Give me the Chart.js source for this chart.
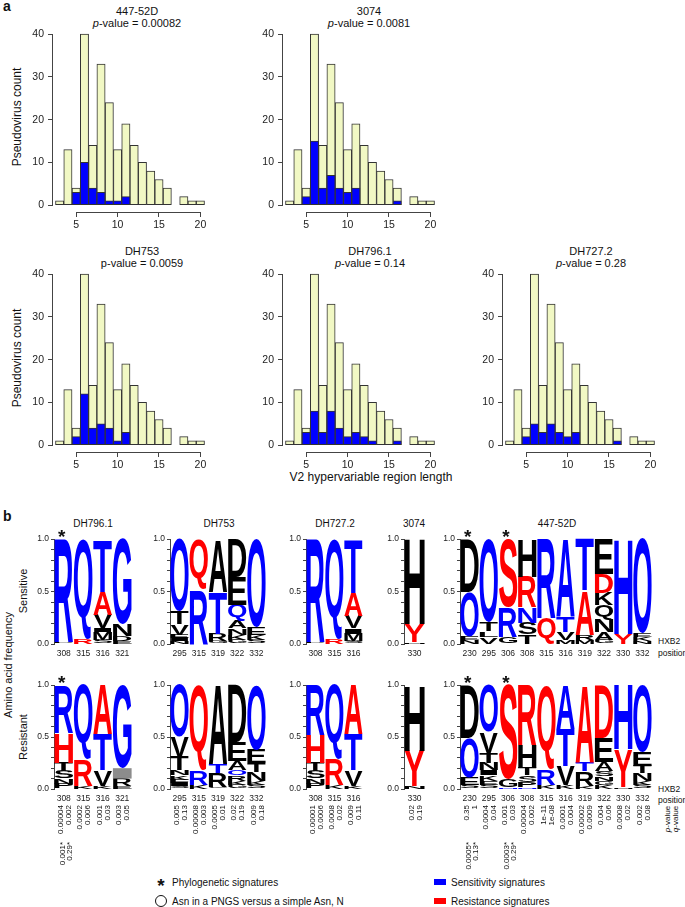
<!DOCTYPE html>
<html>
<head>
<meta charset="utf-8">
<script src="https://cdn.jsdelivr.net/npm/chart.js@4.4.1/dist/chart.umd.min.js"></script>
<style>
body { margin: 0; background: #fff; }
#fig { position: relative; width: 685px; height: 907px; overflow: hidden; background: #fff;
       font-family: "Liberation Sans", Arial, Helvetica, sans-serif; color: #111; }
#fig canvas { position: absolute; }
.t { position: absolute; white-space: nowrap; transform: translate(-50%, -50%); }
.l { position: absolute; white-space: nowrap; transform: translateY(-50%); }
.r { position: absolute; white-space: nowrap; transform: translate(-50%, -50%) rotate(-90deg); }
.panel { position: absolute; font-weight: bold; font-size: 14px; }
.ht { font-size: 11px; }
.lt { font-size: 10px; }
.sw { position: absolute; width: 12px; height: 6px; }
</style>
</head>
<body>
<div id="fig">
  <div class="panel" style="left:3px;top:-2px">a</div>
  <div class="t ht" style="left:137px;top:11px">447-52D</div>
  <div class="t ht" style="left:137px;top:23px"><i>p</i>-value = 0.00082</div>
  <div class="t ht" style="left:369px;top:11px">3074</div>
  <div class="t ht" style="left:369px;top:23px"><i>p</i>-value = 0.0081</div>
  <div class="t ht" style="left:142px;top:251px">DH753</div>
  <div class="t ht" style="left:142px;top:263px">p-value = 0.0059</div>
  <div class="t ht" style="left:370px;top:251px">DH796.1</div>
  <div class="t ht" style="left:370px;top:263px"><i>p</i>-value = 0.14</div>
  <div class="t ht" style="left:591px;top:251px">DH727.2</div>
  <div class="t ht" style="left:591px;top:263px"><i>p</i>-value = 0.28</div>
  <div class="r" style="left:17px;top:117px;font-size:12px">Pseudovirus count</div>
  <div class="r" style="left:17px;top:358px;font-size:12px">Pseudovirus count</div>
  <div class="t" style="left:371px;top:477px;font-size:12px">V2 hypervariable region length</div>

  <div class="panel" style="left:3px;top:508px">b</div>
  <div class="t lt" style="left:93px;top:523px">DH796.1</div>
  <div class="t lt" style="left:219px;top:523px">DH753</div>
  <div class="t lt" style="left:335px;top:523px">DH727.2</div>
  <div class="t lt" style="left:414px;top:523px">3074</div>
  <div class="t lt" style="left:557px;top:523px">447-52D</div>
  <div class="r" style="left:8px;top:665px;font-size:11px">Amino acid frequency</div>
  <div class="r" style="left:23px;top:591px;font-size:11px">Sensitive</div>
  <div class="r" style="left:23px;top:737px;font-size:11px">Resistant</div>
  <div class="l" style="left:658px;top:641px;font-size:8.5px">HXB2</div>
  <div class="l" style="left:658px;top:653px;font-size:8.5px">position</div>
  <div class="l" style="left:658px;top:789px;font-size:8.5px">HXB2</div>
  <div class="l" style="left:658px;top:800px;font-size:8.5px">position</div>
  <div class="r" style="left:667px;top:819px;font-size:8px"><i>p</i>-value</div>
  <div class="r" style="left:675px;top:819px;font-size:8px"><i>q</i>-value</div>

  <div class="t" style="left:161px;top:886px;font-size:19px;font-weight:bold">*</div>
  <div class="l lt" style="left:172px;top:882px">Phylogenetic signatures</div>
  <div style="position:absolute;left:155px;top:895px;width:10px;height:10px;border:1.5px solid #111;border-radius:50%"></div>
  <div class="l lt" style="left:172px;top:901px">Asn in a PNGS versus a simple Asn, N</div>
  <div class="sw" style="left:434px;top:879px;background:#0000ff"></div>
  <div class="l lt" style="left:451px;top:882px">Sensitivity signatures</div>
  <div class="sw" style="left:434px;top:898px;background:#ff0000"></div>
  <div class="l lt" style="left:451px;top:901px">Resistance signatures</div>
</div>

<script>
// ---- panel a: V2 length histograms ----
const lengths = [3, 4, 5, 6, 7, 8, 9, 10, 11, 12, 13, 14, 15, 16, 17, 18, 19, 20];
const totalCount = [1, 13, 4, 40, 14, 33, 24, 13, 19, 14, 10, 8, 6, 4, 0, 2, 1, 1];
const sens44752D = [0, 0, 3, 10, 4, 3, 1, 1, 2, 0, 0, 0, 0, 0, 0, 0, 0, 0];
const sens3074 = [0, 0, 2, 15, 4, 7, 4, 3, 4, 0, 0, 0, 0, 1, 0, 0, 0, 0];
const sensDH753 = [0, 0, 2, 12, 4, 5, 4, 1, 3, 0, 0, 0, 0, 0, 0, 0, 0, 0];
const sensDH7961 = [0, 0, 3, 8, 3, 8, 4, 2, 3, 2, 1, 0, 0, 1, 0, 0, 0, 0];
const sensDH7272 = [0, 0, 2, 5, 3, 5, 3, 2, 3, 0, 0, 0, 0, 1, 0, 0, 0, 0];
const countTicks = [0, 10, 20, 30, 40];
const lengthTicks = [5, 10, 15, 20];

// ---- panel b: sequence logos (letters bottom -> top) ----
// sig: s = sensitivity signature, r = resistance signature, n = none, g = gap
const posDH7961 = ['308', '315', '316', '321'];
const sensLetDH7961 = ['PR', 'RQ', 'SMIVAT', 'EDNG'];
const sensSigDH7961 = ['ns', 'rs', 'nnnnrs', 'nnns'];
const sensFrqDH7961 = [[.02, .98], [.05, .95], [.04, .07, .04, .13, .22, .50], [.03, .05, .11, .81]];
const resLetDH7961 = ['PNSTHR', 'KRQ', 'KVTA', 'ER-G'];
const resSigDH7961 = ['nnnnrs', 'nrs', 'nnsr', 'nngs'];
const resFrqDH7961 = [[.05, .05, .07, .08, .29, .46], [.03, .25, .72], [.03, .15, .35, .47], [.03, .07, .10, .80]];
const pvalDH7961 = ['0.00004', '0.0002', '0.001', '0.003'];
const qvalDH7961 = ['0.002', '0.006', '0.03', '0.05'];
const phyPDH7961 = ['0.001*', '', '', ''];
const phyQDH7961 = ['0.29*', '', '', ''];

const posDH753 = ['295', '315', '319', '322', '332'];
const sensLetDH753 = ['NIEVTO', 'RQ', 'GRTA', 'GKNAQED', 'SKEO'];
const sensSigDH753 = ['nnnnns', 'sr', 'nnsn', 'nnnnsnn', 'nnns'];
const sensFrqDH753 = [[.03, .03, .03, .10, .12, .69], [.52, .48], [.03, .07, .40, .50], [.04, .05, .06, .07, .15, .27, .36], [.04, .05, .07, .84]];
const resLetDH753 = ['SIFKNTVO', 'KRQ', 'GRTA', 'GKROAED', 'SKNTEO'];
const resSigDH753 = ['nnnnnnns', 'nsr', 'nnsn', 'nnnsnnn', 'nnnnns'];
const resFrqDH753 = [[.03, .03, .03, .04, .05, .13, .19, .50], [.04, .14, .82], [.02, .13, .09, .76], [.04, .04, .05, .05, .09, .18, .55], [.04, .04, .08, .09, .13, .62]];
const pvalDH753 = ['0.005', '0.00008', '0.0005', '0.02', '0.009'];
const qvalDH753 = ['0.13', '0.003', '0.01', '0.19', '0.18'];

const posDH7272 = ['308', '315', '316'];
const sensLetDH7272 = ['PR', 'RQ', 'SMIVAT'];
const sensSigDH7272 = ['ns', 'rs', 'nnnnrs'];
const sensFrqDH7272 = [[.02, .98], [.05, .95], [.03, .07, .05, .12, .22, .51]];
const resLetDH7272 = ['PNSTHR', 'KRQ', 'KVTA'];
const resSigDH7272 = ['nnnnrs', 'nrs', 'nnsr'];
const resFrqDH7272 = [[.05, .05, .07, .08, .27, .48], [.04, .24, .72], [.03, .15, .35, .47]];
const pvalDH7272 = ['0.00001', '0.0008', '0.009'];
const qvalDH7272 = ['0.0006', '0.02', '0.11'];

const pos3074 = ['330'];
const sensLet3074 = ['NYH'];
const sensSig3074 = ['nrn'];
const sensFrq3074 = [[.02, .17, .81]];
const resLet3074 = ['NYH'];
const resSig3074 = ['nrn'];
const resFrq3074 = [[.03, .34, .63]];
const pval3074 = ['0.02'];
const qval3074 = ['0.19'];

const pos44752D = ['230', '295', '306', '308', '315', '316', '319', '322', '330', '332'];
const sensLet44752D = ['NEOD', 'VLTO', 'GRS', 'TSNRH', 'QR', 'MVTA', 'MRAT', 'GANQKDE', 'YH', 'NKEO'];
const sensSig44752D = ['nnsn', 'nnns', 'nsr', 'nnsrn', 'rs', 'nnss', 'nnrs', 'nnnnnrn', 'rs', 'nnns'];
const sensFrq44752D = [[.04, .03, .43, .50], [.07, .05, .09, .79], [.07, .28, .65], [.09, .11, .15, .29, .36], [.25, .75],
  [.04, .07, .15, .74], [.04, .05, .42, .49], [.04, .07, .12, .14, .12, .18, .33], [.10, .90], [.03, .04, .03, .90]];
const resLet44752D = ['SEOD', 'SEKINTVO', 'NGS', 'NPSTHR', 'KRQ', 'KVTA', 'KRTA', 'KGNSAED', 'NYH', 'SKNTEO'];
const resSig44752D = ['nnsn', 'nnnnnnns', 'snr', 'snnnnr', 'nsr', 'nnss', 'nnsr', 'nnnnnnr', 'nrs', 'nnnnns'];
const resFrq44752D = [[.04, .07, .38, .51], [.04, .04, .05, .05, .07, .10, .20, .45], [.02, .07, .91], [.02, .05, .06, .07, .22, .58],
  [.04, .15, .81], [.04, .18, .36, .42], [.03, .14, .09, .74], [.04, .04, .04, .05, .09, .23, .51], [.02, .36, .62], [.04, .04, .07, .07, .14, .64]];
const pval44752D = ['0.35', '0.0004', '0.001', '0.00004', '1e-11', '0.0001', '0.00002', '0.004', '0.0008', '0.002'];
const qval44752D = ['1', '0.04', '0.03', '0.002', '1e-08', '0.004', '0.0009', '0.06', '0.02', '0.08'];
const phyP44752D = ['0.0005*', '', '0.0003*', '', '', '', '', '', '', ''];
const phyQ44752D = ['0.13*', '', '0.29*', '', '', '', '', '', '', ''];

const FONT = '"Liberation Sans", Arial, Helvetica, sans-serif';
Chart.defaults.font.family = FONT;
const fig = document.getElementById('fig');

function addCanvas(left, top, w, h) {
  const c = document.createElement('canvas');
  c.width = w;
  c.height = h;
  c.style.left = left + 'px';
  c.style.top = top + 'px';
  fig.appendChild(c);
  return c;
}

// R-style axes: lines only from first to last tick
const rAxes = {
  id: 'rAxes',
  afterDraw(chart) {
    const { ctx, chartArea, scales: { x, y } } = chart;
    const xt = x.ticks.map(t => t.value), yt = y.ticks.map(t => t.value);
    ctx.save();
    ctx.strokeStyle = '#444';
    ctx.lineWidth = 1;
    ctx.beginPath();
    const yb = Math.round(chartArea.bottom) + 0.5, xl = Math.round(chartArea.left) - 0.5;
    ctx.moveTo(x.getPixelForValue(xt[0]), yb);
    ctx.lineTo(x.getPixelForValue(xt[xt.length - 1]), yb);
    ctx.moveTo(xl, y.getPixelForValue(yt[0]));
    ctx.lineTo(xl, y.getPixelForValue(yt[yt.length - 1]));
    ctx.stroke();
    ctx.restore();
  }
};

function histogram(left, top, blue) {
  const canvas = addCanvas(left - 30, top - 8, 196, 219);
  const common = { borderColor: '#333', borderWidth: 1, borderSkipped: false, grouped: false,
    barPercentage: 1, categoryPercentage: 1 };
  new Chart(canvas, {
    type: 'bar',
    data: {
      datasets: [
        Object.assign({ data: lengths.map((x, i) => ({ x, y: blue[i] || null })), backgroundColor: '#0000ff' }, common),
        Object.assign({ data: lengths.map((x, i) => ({ x, y: totalCount[i] || null })), backgroundColor: '#f1f8c4' }, common)
      ]
    },
    options: {
      responsive: false, animation: false, devicePixelRatio: 1,
      layout: { padding: { top: 8, right: 12, left: 0, bottom: 0 } },
      plugins: { legend: { display: false }, tooltip: { enabled: false } },
      scales: {
        x: {
          type: 'linear', min: 2.2, max: 20.8, offset: false,
          afterBuildTicks: s => { s.ticks = lengthTicks.map(v => ({ value: v })); },
          afterFit: s => { s.height = 24; },
          grid: { drawOnChartArea: false, offset: false, tickLength: 5, color: '#444' },
          border: { display: false },
          ticks: { color: '#222', font: { size: 10.5 }, padding: 2, maxRotation: 0, autoSkip: false }
        },
        y: {
          min: -1.6, max: 41.6,
          afterBuildTicks: s => { s.ticks = countTicks.map(v => ({ value: v })); },
          afterFit: s => { s.width = 30; },
          grid: { drawOnChartArea: false, tickLength: 5, color: '#444' },
          border: { display: false },
          ticks: { color: '#222', font: { size: 10.5 }, padding: 4, autoSkip: false }
        }
      }
    },
    plugins: [rAxes]
  });
}

histogram(53, 25, sens44752D);
histogram(283, 25, sens3074);
histogram(53, 265, sensDH753);
histogram(283, 265, sensDH7961);
histogram(503, 265, sensDH7272);

const sigColor = { s: '#0000ff', r: '#ff0000', n: '#000000', g: '#8c8c8c' };

function drawGlyph(ctx, ch, color, x, y, w, h) {
  ctx.save();
  ctx.fillStyle = color;
  if (ch === '-') {
    ctx.fillRect(x, y, w, h);
    ctx.restore();
    return;
  }
  ctx.font = 'bold 100px ' + FONT;
  const m = ctx.measureText(ch);
  const gw = m.actualBoundingBoxLeft + m.actualBoundingBoxRight;
  const gh = m.actualBoundingBoxAscent + m.actualBoundingBoxDescent;
  ctx.translate(x, y);
  ctx.scale(w / gw, h / gh);
  ctx.textAlign = 'left';
  ctx.textBaseline = 'alphabetic';
  ctx.fillText(ch, m.actualBoundingBoxLeft, m.actualBoundingBoxAscent);
  ctx.restore();
}

function logo(box, pos, lets, sigs, frqs, extra) {
  const canvas = addCanvas(box.left - 28, box.top - 14, 28 + box.width + 6, 14 + box.height + box.axis);
  const depth = Math.max(...lets.map(s => s.length));
  const datasets = [];
  for (let k = 0; k < depth; k++) {
    datasets.push({ data: frqs.map(f => f[k] ?? null), backgroundColor: 'rgba(0,0,0,0)', borderWidth: 0,
      barPercentage: 1, categoryPercentage: 1 });
  }
  const letters = {
    id: 'letters',
    afterDatasetsDraw(chart) {
      const ctx = chart.ctx;
      chart.data.datasets.forEach((ds, k) => {
        chart.getDatasetMeta(k).data.forEach((bar, i) => {
          const ch = lets[i][k];
          if (!ch) return;
          const p = bar.getProps(['x', 'y', 'base', 'width'], true);
          const top = Math.min(p.y, p.base), h = Math.abs(p.base - p.y);
          if (h < 0.3) return;
          drawGlyph(ctx, ch, sigColor[sigs[i][k]], p.x - p.width / 2 + 0.4, top, p.width - 0.8, h);
        });
      });
    }
  };
  const extras = {
    id: 'extras',
    afterDraw(chart) {
      const ctx = chart.ctx, xs = chart.scales.x, ca = chart.chartArea;
      ctx.save();
      ctx.fillStyle = '#111';
      ctx.font = 'bold 19px ' + FONT;
      ctx.textAlign = 'center';
      ctx.textBaseline = 'alphabetic';
      (extra.stars || []).forEach(i => ctx.fillText('*', xs.getPixelForValue(i) - 2, ca.top + 4));
      ctx.font = '8px ' + FONT;
      ctx.textAlign = 'right';
      ctx.textBaseline = 'middle';
      const rot = (txt, x, y) => {
        ctx.save();
        ctx.translate(x, y);
        ctx.rotate(-Math.PI / 2);
        ctx.fillText(txt, 0, 0);
        ctx.restore();
      };
      (extra.p || []).forEach((v, i) => {
        const x = xs.getPixelForValue(i);
        rot(v, x - 3, ca.bottom + 16);
        rot(extra.q[i], x + 5, ca.bottom + 16);
      });
      (extra.phyP || []).forEach((v, i) => {
        if (!v) return;
        const x = xs.getPixelForValue(i);
        rot(v, x - 1, ca.bottom + 53);
        rot(extra.phyQ[i], x + 6, ca.bottom + 53);
      });
      ctx.restore();
    }
  };
  new Chart(canvas, {
    type: 'bar',
    data: { labels: pos, datasets },
    options: {
      responsive: false, animation: false, devicePixelRatio: 1,
      layout: { padding: { top: 14, right: 6, left: 0, bottom: 0 } },
      plugins: { legend: { display: false }, tooltip: { enabled: false } },
      scales: {
        x: {
          stacked: true,
          afterFit: s => { s.height = box.axis; },
          grid: { display: false, drawTicks: false },
          border: { display: false },
          ticks: { color: '#222', font: { size: 8.5 }, padding: 5, maxRotation: 0, autoSkip: false }
        },
        y: {
          stacked: true, min: 0, max: 1,
          afterFit: s => { s.width = 28; },
          grid: { drawOnChartArea: false, tickLength: 3, color: '#444' },
          border: { color: '#444' },
          ticks: {
            stepSize: 0.1, autoSkip: false, color: '#222', font: { size: 8.5 }, padding: 2,
            callback: v => (Math.abs(v * 2 - Math.round(v * 2)) < 1e-6 ? v.toFixed(1) : '')
          }
        }
      }
    },
    plugins: [letters, extras]
  });
}

const SENS = { top: 539, height: 105, axis: 22 };
const RES = { top: 685, height: 104, axis: 90 };
const cols = { DH7961: [54, 78], DH753: [170, 96], DH7272: [306, 57], L3074: [404, 21], L44752D: [460, 192] };
const box = (row, c) => Object.assign({ left: c[0], width: c[1] }, row);

logo(box(SENS, cols.DH7961), posDH7961, sensLetDH7961, sensSigDH7961, sensFrqDH7961, { stars: [0] });
logo(box(RES, cols.DH7961), posDH7961, resLetDH7961, resSigDH7961, resFrqDH7961,
  { stars: [0], p: pvalDH7961, q: qvalDH7961, phyP: phyPDH7961, phyQ: phyQDH7961 });
logo(box(SENS, cols.DH753), posDH753, sensLetDH753, sensSigDH753, sensFrqDH753, {});
logo(box(RES, cols.DH753), posDH753, resLetDH753, resSigDH753, resFrqDH753, { p: pvalDH753, q: qvalDH753 });
logo(box(SENS, cols.DH7272), posDH7272, sensLetDH7272, sensSigDH7272, sensFrqDH7272, {});
logo(box(RES, cols.DH7272), posDH7272, resLetDH7272, resSigDH7272, resFrqDH7272, { p: pvalDH7272, q: qvalDH7272 });
logo(box(SENS, cols.L3074), pos3074, sensLet3074, sensSig3074, sensFrq3074, {});
logo(box(RES, cols.L3074), pos3074, resLet3074, resSig3074, resFrq3074, { p: pval3074, q: qval3074 });
logo(box(SENS, cols.L44752D), pos44752D, sensLet44752D, sensSig44752D, sensFrq44752D, { stars: [0, 2] });
logo(box(RES, cols.L44752D), pos44752D, resLet44752D, resSig44752D, resFrq44752D,
  { stars: [0, 2], p: pval44752D, q: qval44752D, phyP: phyP44752D, phyQ: phyQ44752D });
</script>
</body>
</html>
